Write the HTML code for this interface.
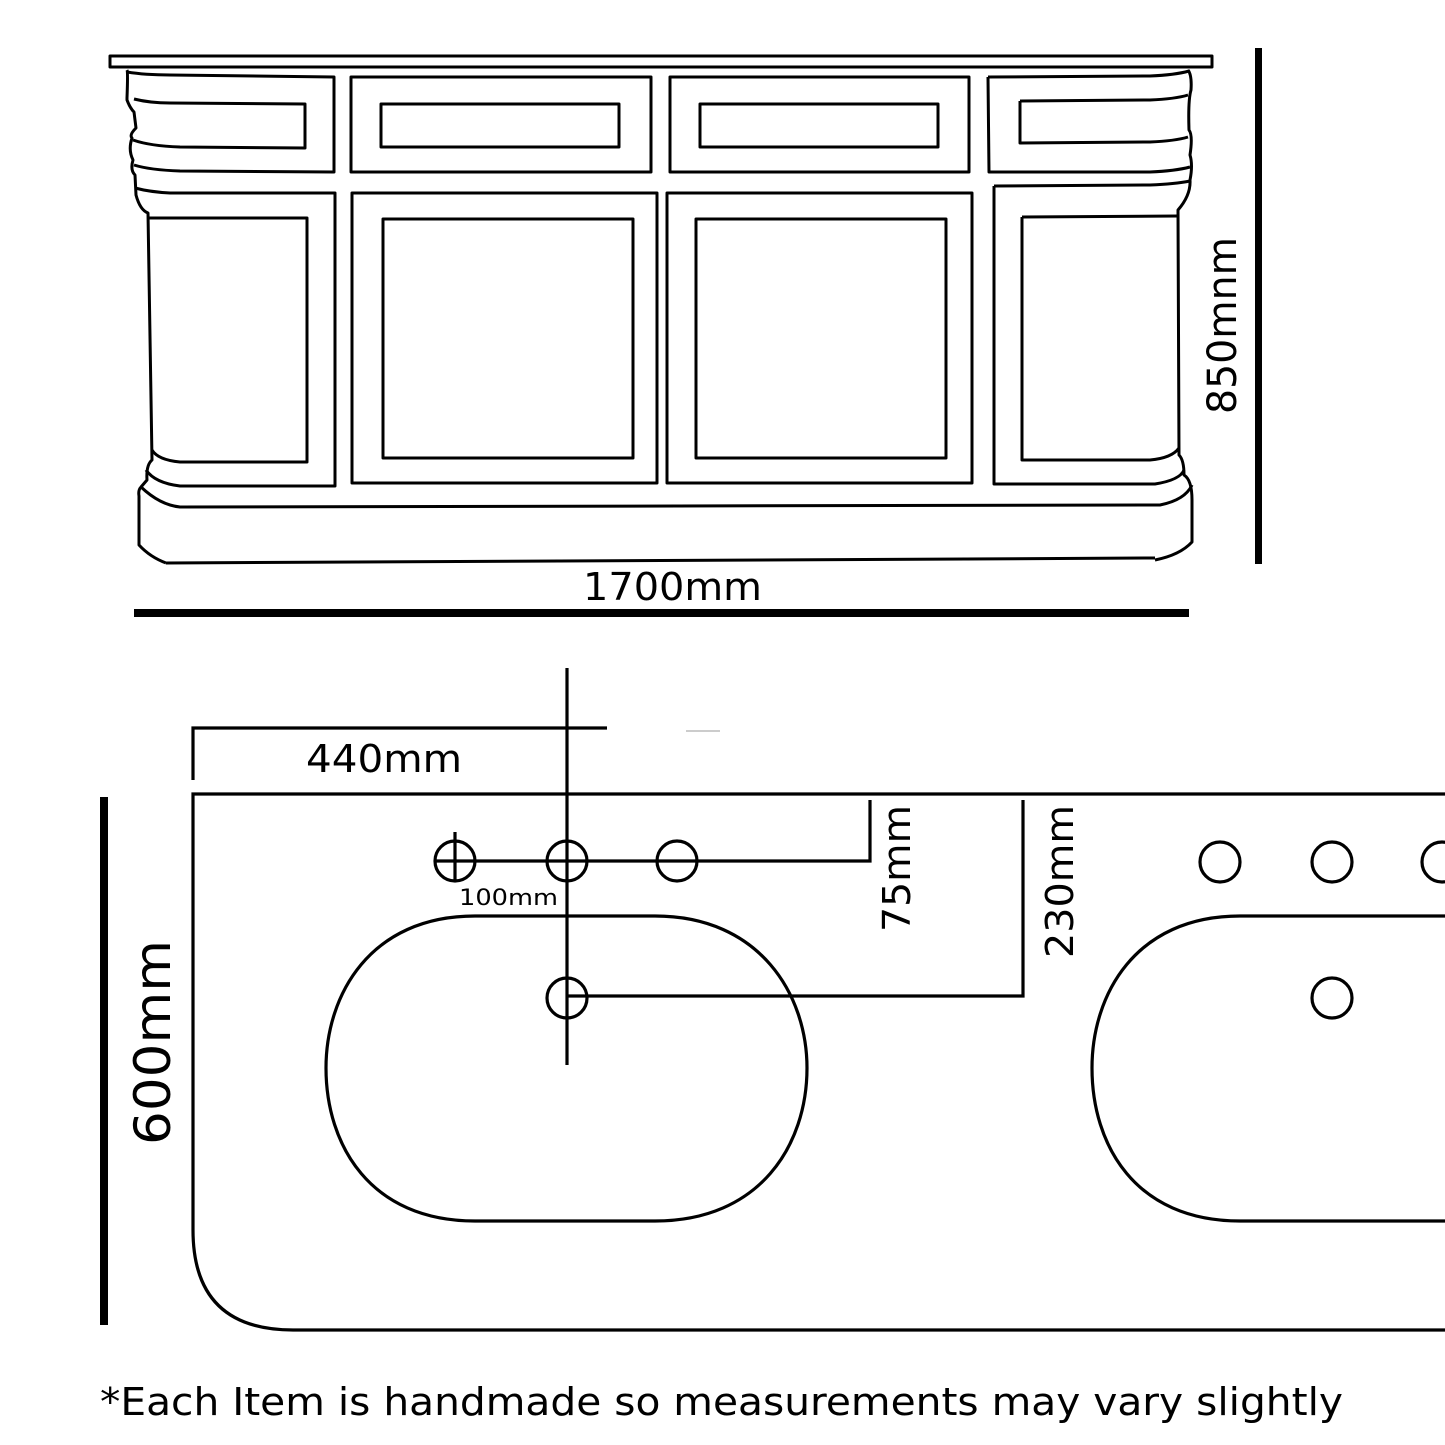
<!DOCTYPE html>
<html><head><meta charset="utf-8"><style>html,body{margin:0;padding:0;background:#fff}svg{display:block}</style></head>
<body>
<svg width="1445" height="1445" viewBox="0 0 1445 1445" xmlns="http://www.w3.org/2000/svg" font-family="'DejaVu Sans', 'Liberation Sans', sans-serif">
<g fill="none" stroke="#000" stroke-width="3" stroke-linejoin="round">
<rect x="110" y="56" width="1102" height="11"/>
<path d="M127 70 Q128 72 127 98 L127 100 Q130 108 134 112 L136 128 Q129 135 132 138 Q128 150 133 160 Q130 170 135 175 L136 195 Q140 210 148 213 L152 460 Q146 465 147 480 L141 487 Q138 490 139 496 L139 545 Q150 557 166 563"/>
<path d="M1188 70 Q1192 75 1191 90 Q1188 100 1189 130 Q1193 135 1190 155 Q1193 165 1190 180 Q1191 195 1178 210 L1179 455 Q1184 460 1184 475 Q1192 480 1192 500 L1192 542 Q1180 555 1155 560"/>
<path d="M166 563 L1155 558"/>
<path d="M141 487 Q160 505 180 507 L1160 505 Q1185 500 1192 485"/>
<path d="M127 72 Q145 75 170 75 L334 77 L334 172 L180 171 Q150 170 134 165"/>
<path d="M134 99 Q150 103 170 103 L305 104 L305 148 L180 147 Q150 146 133 140"/>
<rect x="351" y="77" width="300" height="95"/>
<rect x="381" y="104" width="238" height="43"/>
<rect x="670" y="77" width="299" height="95"/>
<rect x="700" y="104" width="238" height="43"/>
<path d="M988 77 L1150 76 Q1175 75 1189 71 M988 77 L989 172 L1150 172 Q1175 171 1190 167"/>
<path d="M1020 101 L1150 100 Q1175 99 1188 95 M1020 101 L1020 143 L1150 142 Q1175 141 1188 137"/>
<path d="M135 188 Q150 192 170 193 L335 193 L335 486 L180 486 Q155 483 146 470"/>
<path d="M994 186 L1150 185 Q1175 184 1190 181"/>
<path d="M148 218 L307 218 L307 462 L180 462 Q158 460 152 450"/>
<rect x="352" y="193" width="305" height="290"/>
<rect x="383" y="219" width="250" height="239"/>
<rect x="667" y="193" width="305" height="290"/>
<rect x="696" y="219" width="250" height="239"/>
<path d="M994 186 L994 484 L1155 484 Q1180 480 1184 470"/>
<path d="M1022 217 L1178 216 M1022 217 L1022 460 L1150 460 Q1172 458 1179 448"/>
</g>
<rect x="1255" y="48" width="7" height="516" fill="#000"/>
<rect x="134" y="609" width="1055" height="8" fill="#000"/>
<text x="583" y="600" font-size="38" textLength="179" lengthAdjust="spacingAndGlyphs">1700mm</text>
<text transform="translate(1236 414) rotate(-90)" font-size="40" textLength="177" lengthAdjust="spacingAndGlyphs">850mnm</text>

<g fill="none" stroke="#000" stroke-width="3.2">
<path d="M1445 794 L193 794 L193 1230 Q193 1330 293 1330 L1445 1330"/>
<path d="M193 780 L193 728 L607 728"/>
<path d="M567 668 L567 1065"/>
<path d="M435 861 L870 861 L870 800"/>
<path d="M567 996 L1023 996 L1023 800"/>
<path d="M455 832 L455 882"/>
<circle cx="455" cy="861" r="20"/>
<circle cx="567" cy="861" r="20"/>
<circle cx="677" cy="861" r="20"/>
<circle cx="567" cy="998" r="20"/>
<circle cx="1220" cy="862" r="20"/>
<circle cx="1332" cy="862" r="20"/>
<circle cx="1442" cy="862" r="20"/>
<circle cx="1332" cy="998" r="20"/>
<path d="M475 916 L655 916 C760 916 807 995 807 1068 C807 1145 760 1221 655 1221 L475 1221 C370 1221 326 1145 326 1068 C326 995 370 916 475 916 Z"/>
<path d="M1445 916 L1240 916 C1135 916 1092 995 1092 1068 C1092 1145 1135 1221 1240 1221 L1445 1221"/>
</g>
<path d="M686 731 L720 731" stroke="#ccc" stroke-width="2"/>
<rect x="100" y="797" width="8" height="528" fill="#000"/>
<text x="306" y="772" font-size="38" textLength="156" lengthAdjust="spacingAndGlyphs">440mm</text>
<text x="459" y="905" font-size="22" textLength="99" lengthAdjust="spacingAndGlyphs">100mm</text>
<text transform="translate(910 932) rotate(-90)" font-size="38" textLength="127" lengthAdjust="spacingAndGlyphs">75mm</text>
<text transform="translate(1073 958) rotate(-90)" font-size="38" textLength="153" lengthAdjust="spacingAndGlyphs">230mm</text>
<text transform="translate(170 1145) rotate(-90)" font-size="50" textLength="205" lengthAdjust="spacingAndGlyphs">600mm</text>
<text x="100" y="1415" font-size="38" textLength="1243" lengthAdjust="spacingAndGlyphs">*Each Item is handmade so measurements may vary slightly</text>
</svg>
</body></html>
